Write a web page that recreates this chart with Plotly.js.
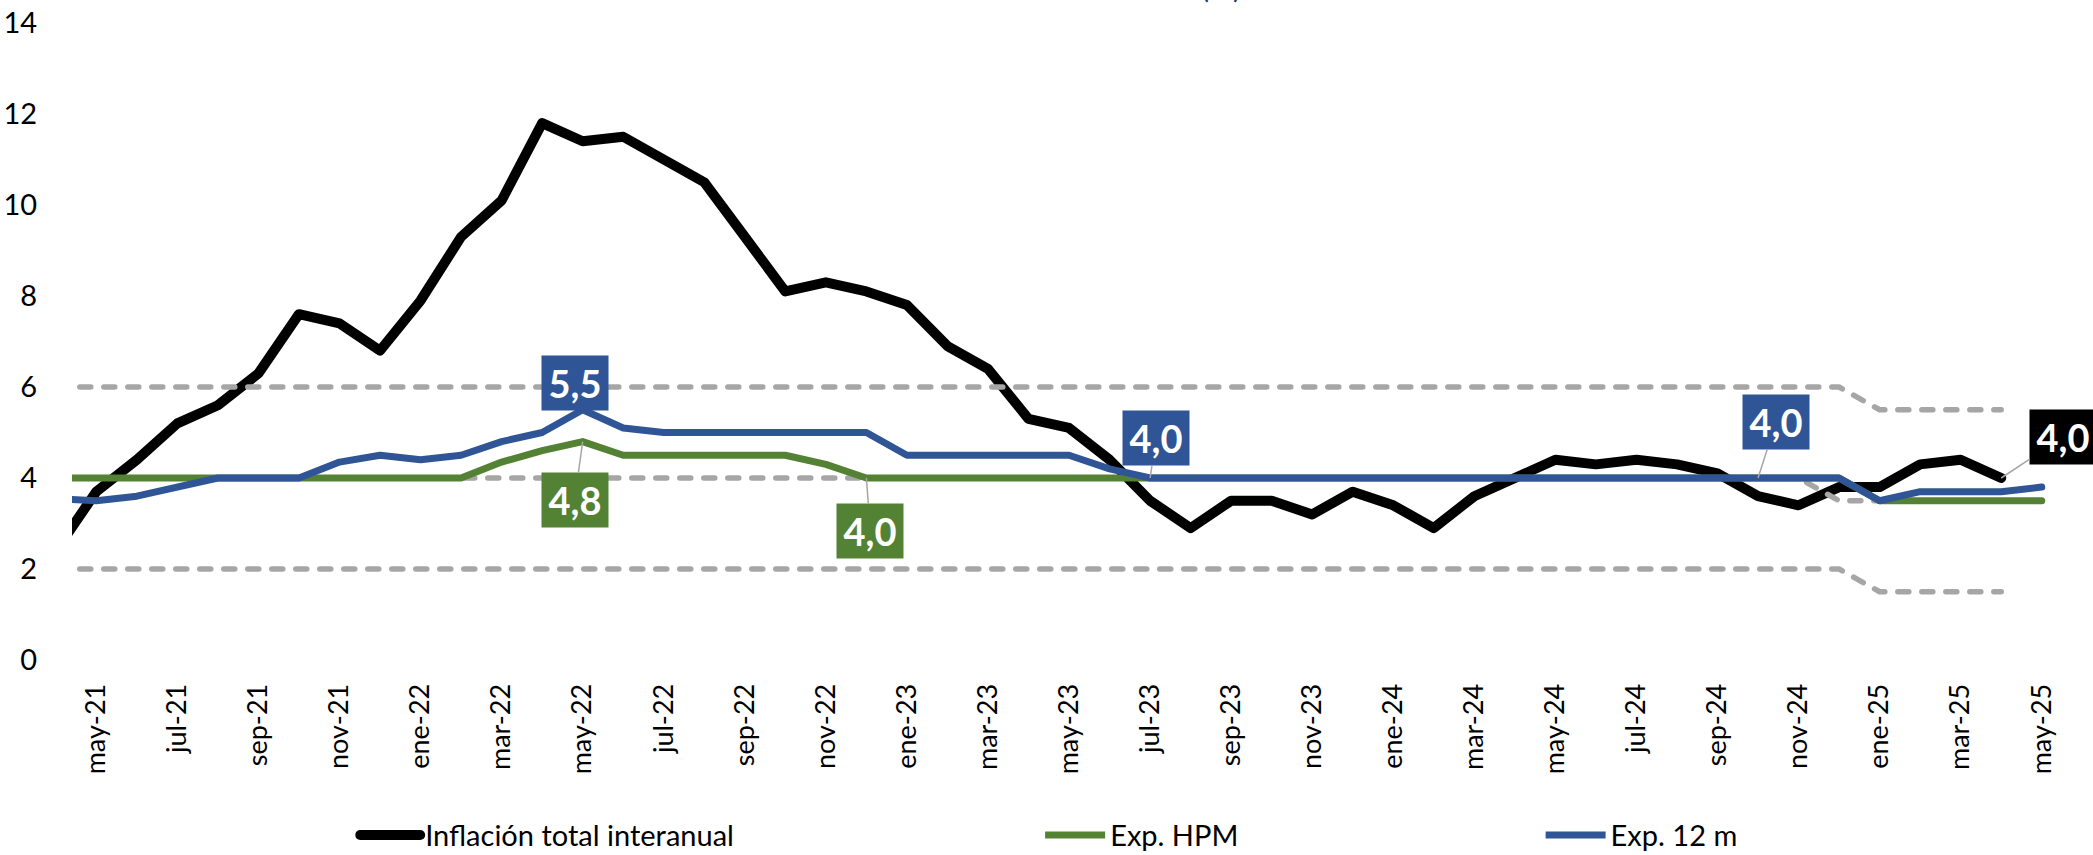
<!DOCTYPE html>
<html><head><meta charset="utf-8">
<script src="https://cdn.plot.ly/plotly-3.0.1.min.js"></script>
<style>
html,body{margin:0;padding:0;background:#fff;}
#chart{width:2093px;height:855px;}
.scatterlayer path.js-line, .legend path.js-line{stroke-linejoin:round;stroke-linecap:round;}
</style></head><body><div id="chart"></div>
<script>
// Months (abr-21 .. may-25)
const months = ['abr-21','may-21','jun-21','jul-21','ago-21','sep-21','oct-21','nov-21','dic-21',
  'ene-22','feb-22','mar-22','abr-22','may-22','jun-22','jul-22','ago-22','sep-22','oct-22','nov-22','dic-22',
  'ene-23','feb-23','mar-23','abr-23','may-23','jun-23','jul-23','ago-23','sep-23','oct-23','nov-23','dic-23',
  'ene-24','feb-24','mar-24','abr-24','may-24','jun-24','jul-24','ago-24','sep-24','oct-24','nov-24','dic-24',
  'ene-25','feb-25','mar-25','abr-25','may-25'];

// Inflación total interanual (%)
const inflacion = [2.4,3.7,4.4,5.2,5.6,6.3,7.6,7.4,6.8,
  7.9,9.3,10.1,11.8,11.4,11.5,11.0,10.5,9.3,8.1,8.3,8.1,
  7.8,6.9,6.4,5.3,5.1,4.4,3.5,2.9,3.5,3.5,3.2,3.7,
  3.4,2.9,3.6,4.0,4.4,4.3,4.4,4.3,4.1,3.6,3.4,3.8,
  3.8,4.3,4.4,4.0,null];

// Expectativas HPM (%)
const expHPM = [4.0,4.0,4.0,4.0,4.0,4.0,4.0,4.0,4.0,
  4.0,4.0,4.35,4.6,4.8,4.5,4.5,4.5,4.5,4.5,4.3,4.0,
  4.0,4.0,4.0,4.0,4.0,4.0,4.0,4.0,4.0,4.0,4.0,4.0,
  4.0,4.0,4.0,4.0,4.0,4.0,4.0,4.0,4.0,4.0,4.0,4.0,
  3.5,3.5,3.5,3.5,3.5];

// Expectativas 12 meses (%)
const exp12m = [3.55,3.5,3.6,3.8,4.0,4.0,4.0,4.35,4.5,
  4.4,4.5,4.8,5.0,5.5,5.1,5.0,5.0,5.0,5.0,5.0,5.0,
  4.5,4.5,4.5,4.5,4.5,4.2,4.0,4.0,4.0,4.0,4.0,4.0,
  4.0,4.0,4.0,4.0,4.0,4.0,4.0,4.0,4.0,4.0,4.0,4.0,
  3.5,3.7,3.7,3.7,3.8];

// Target range lines
const bandUpper = [6,6,6,6,6,6,6,6,6, 6,6,6,6,6,6,6,6,6,6,6,6, 6,6,6,6,6,6,6,6,6,6,6,6,
  6,6,6,6,6,6,6,6,6,6,6,6, 5.5,5.5,5.5,5.5,null];
const bandMid = [4,4,4,4,4,4,4,4,4, 4,4,4,4,4,4,4,4,4,4,4,4, 4,4,4,4,4,4,4,4,4,4,4,4,
  4,4,4,4,4,4,4,4,4,4,4,3.5, 3.5,3.5,3.5,3.5,null];
const bandLower = [2,2,2,2,2,2,2,2,2, 2,2,2,2,2,2,2,2,2,2,2,2, 2,2,2,2,2,2,2,2,2,2,2,2,
  2,2,2,2,2,2,2,2,2,2,2,2, 1.5,1.5,1.5,1.5,null];

const tickLabels = months.filter((m, i) => i % 2 === 1);
const yTicks = [0,2,4,6,8,10,12,14];

const names = {inf:'Inflación total interanual', hpm:'Exp. HPM', m12:'Exp. 12 m'};
const colors = {inf:'#000000', hpm:'#548235', m12:'#2F5597', band:'#A6A6A6'};

// Data labels: series, month, offsets of label box
const dataLabels = [
  {s:'m12', month:'may-22', ax:-8, ay:-27},
  {s:'hpm', month:'may-22', ax:-8, ay:58},
  {s:'hpm', month:'dic-22', ax:4, ay:53},
  {s:'m12', month:'jul-23', ax:6, ay:-40},
  {s:'m12', month:'oct-24', ax:18, ay:-56},
  {s:'inf', month:'abr-25', ax:62, ay:-41}
];
const seriesData = {inf:inflacion, hpm:expHPM, m12:exp12m};

const FONT = 'Lato, "Open Sans", sans-serif';

function band(y) {
  return {x: months, y: y, type:'scatter', mode:'lines', showlegend:false, hoverinfo:'skip',
    line:{color:colors.band, width:5.5, dash:'11px,13px'}};
}

const traces = [
  {x:months, y:inflacion, name:names.inf, type:'scatter', mode:'lines', legend:'legend',
   line:{color:colors.inf, width:10}},
  band(bandUpper), band(bandMid), band(bandLower),
  {x:months, y:expHPM, name:names.hpm, type:'scatter', mode:'lines', legend:'legend2',
   line:{color:colors.hpm, width:7}},
  {x:months, y:exp12m, name:names.m12, type:'scatter', mode:'lines', legend:'legend3',
   line:{color:colors.m12, width:7}}
];

const annotations = dataLabels.map(d => {
  const v = seriesData[d.s][months.indexOf(d.month)];
  return {
    x: d.month, y: v, xref:'x', yref:'y',
    text: v.toFixed(1).replace('.', ','),
    showarrow:true, arrowhead:0, arrowwidth:1.5, arrowcolor:'#A6A6A6', standoff:0,
    ax:d.ax, ay:d.ay,
    bgcolor: colors[d.s], width:66, height:54, borderpad:0,
    font:{family:FONT, size:38, color:'#FFFFFF', weight:700}
  };
});
annotations.push({
  text:'(%)', xref:'paper', yref:'paper', x:0.5774, y:1.026, xanchor:'center', yanchor:'bottom',
  showarrow:false, font:{family:FONT, size:30, color:'#1F3864'}
});

const legendBase = {orientation:'h', yanchor:'middle', y:-0.275, xanchor:'left',
  font:{family:FONT, size:29, color:'#000'}, itemwidth:60, bgcolor:'rgba(0,0,0,0)'};

const layout = {
  width:2093, height:855,
  margin:{l:72, r:31, t:23, b:195, autoexpand:false},
  paper_bgcolor:'#fff', plot_bgcolor:'#fff',
  showlegend:true,
  xaxis:{type:'category', categoryorder:'array', categoryarray:months,
    range:[0.4, 49.5], tickvals:tickLabels, ticktext:tickLabels, tickangle:-90,
    ticks:'outside', ticklen:12, tickcolor:'rgba(0,0,0,0)',
    tickfont:{family:FONT, size:27, color:'#000'},
    showgrid:false, zeroline:false, showline:false, automargin:false, fixedrange:true},
  yaxis:{range:[0,14], tickvals:yTicks, ticktext:yTicks.map(String),
    ticks:'outside', ticklen:28, tickcolor:'rgba(0,0,0,0)',
    tickfont:{family:FONT, size:29, color:'#000'},
    showgrid:false, zeroline:false, showline:false, automargin:false, fixedrange:true},
  legend:Object.assign({}, legendBase, {x:0.1423}),
  legend2:Object.assign({}, legendBase, {x:0.4865}),
  legend3:Object.assign({}, legendBase, {x:0.738}),
  annotations:annotations
};

Plotly.newPlot('chart', traces, layout, {staticPlot:true, displayModeBar:false});
</script></body></html>
